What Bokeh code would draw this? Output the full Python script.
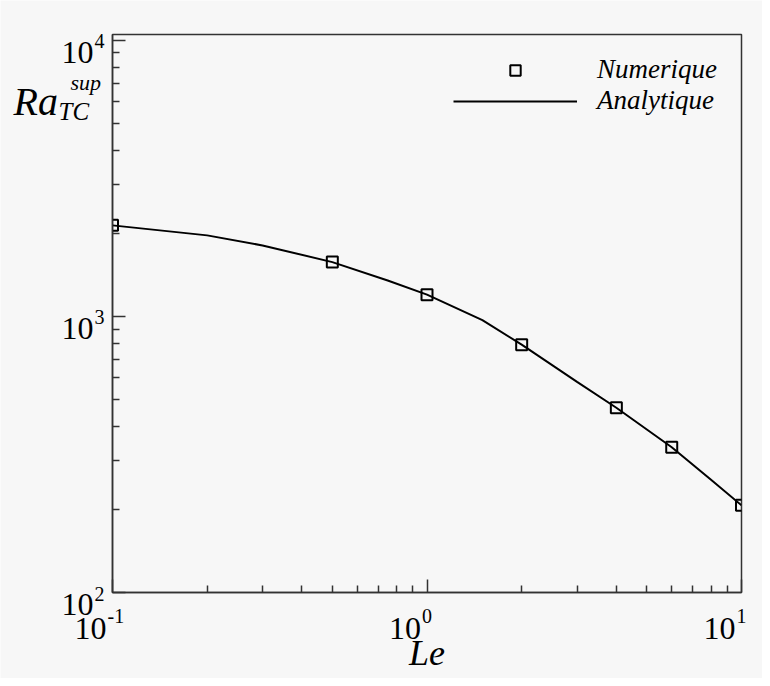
import math
from bokeh.plotting import figure
from bokeh.models import Range1d, FixedTicker, Label, Legend, LegendItem, CustomJSTickFormatter
from bokeh.layouts import column
from bokeh.embed import file_html
from bokeh.resources import INLINE

# ---- data ----
le_num = [0.1, 0.5, 1.0, 2.0, 4.0, 6.0, 10.0]
ra_num = [2137, 1573, 1199, 790, 467, 336, 207]

le_ana = [0.1, 0.2, 0.3, 0.5, 0.75, 1.0, 1.5, 2.0, 3.0, 4.0, 6.0, 8.0, 10.0]
ra_ana = [2137, 1966, 1808, 1573, 1350, 1199, 970, 790, 579, 467, 336, 256, 207]

x_ticks = [0.1, 1.0, 10.0]
x_exps = ["-1", "0", "1"]
y_ticks = [100, 1000, 10000]
y_exps = ["2", "3", "4"]

BG = "#f7f7f7"
FRAME = "#333333"
SERIF = "Liberation Serif"

# ---- layout constants (pixels) ----
W, H = 762, 678
FL, FT, FW, FH = 112, 34, 629, 558
X0, X1 = 0.1, 10.0
Y0, Y1 = 100.0, 10500.0

# ================= chart (transparent, on top) =================
p = figure(x_axis_type="log", y_axis_type="log",
           x_range=Range1d(X0, X1), y_range=Range1d(Y0, Y1),
           frame_width=FW, frame_height=FH,
           min_border_left=FL, min_border_right=W - FL - FW,
           min_border_top=FT, min_border_bottom=H - FT - FH,
           output_backend="svg", toolbar_location=None)
p.background_fill_alpha = 0
p.border_fill_alpha = 0
p.outline_line_color = FRAME
p.outline_line_width = 1.5
p.xgrid.visible = False
p.ygrid.visible = False

minor_x = [k * 10.0 ** d for d in (-1, 0) for k in range(2, 10)]
minor_y = [k * 10.0 ** d for d in (2, 3) for k in range(2, 10)]
p.xaxis.ticker = FixedTicker(ticks=x_ticks, minor_ticks=minor_x)
p.yaxis.ticker = FixedTicker(ticks=y_ticks, minor_ticks=minor_y)

for ax in (p.xaxis[0], p.yaxis[0]):
    ax.axis_line_color = FRAME
    ax.axis_line_width = 1.5
    ax.major_tick_line_color = FRAME
    ax.minor_tick_line_color = FRAME
    ax.major_tick_line_width = 1.5
    ax.minor_tick_line_width = 1.5
    ax.major_tick_in = 13
    ax.major_tick_out = 0
    ax.minor_tick_in = 7
    ax.minor_tick_out = 0
    ax.formatter = CustomJSTickFormatter(code="return ' ';")
    ax.major_label_text_font_size = "8px"
    ax.major_label_standoff = 0

line_r = p.line(le_ana, ra_ana, line_color="black", line_width=2)
sq_r = p.scatter(le_num, ra_num, marker="square", size=11,
                 line_color="black", line_width=2, fill_alpha=0)

legend = Legend(items=[LegendItem(label="Numerique", renderers=[sq_r]),
                       LegendItem(label="Analytique", renderers=[line_r])],
                location=(341, 476), orientation="vertical",
                glyph_width=124, glyph_height=26, label_height=26,
                label_standoff=20, spacing=0, padding=0, margin=0,
                border_line_alpha=0, background_fill_alpha=0,
                label_text_font=SERIF, label_text_font_style="italic",
                label_text_font_size="27px", label_text_color="black")
p.add_layout(legend, "center")

# ================= text layer (behind, same coordinate mapping) =================
ppx = FW / (math.log10(X1) - math.log10(X0))          # pixels per decade (x)
ppy = FH / (math.log10(Y1) - math.log10(Y0))          # pixels per decade (y)
ax0 = 10 ** (math.log10(X0) - FL / ppx)
ax1 = 10 ** (math.log10(X1) + (W - FL - FW) / ppx)
ay0 = 10 ** (math.log10(Y0) - (H - FT - FH) / ppy)
ay1 = 10 ** (math.log10(Y1) + FT / ppy)

t = figure(x_axis_type="log", y_axis_type="log",
           x_axis_location=None, y_axis_location=None,
           x_range=Range1d(ax0, ax1), y_range=Range1d(ay0, ay1),
           frame_width=W, frame_height=H, min_border=0,
           output_backend="svg", toolbar_location=None)
t.xgrid.visible = False
t.ygrid.visible = False
t.outline_line_color = None
t.background_fill_color = BG
t.border_fill_color = BG

# keep the two canvases independent (no frame alignment inside the column)
for fig in (t, p):
    if "frame_align" in fig.properties():
        fig.frame_align = False


def lab(x, y, text, dx, dy, size, align="left", italic=False):
    t.add_layout(Label(x=x, y=y, text=text, x_offset=dx, y_offset=dy,
                       text_align=align, text_baseline="alphabetic",
                       text_font=SERIF, text_font_size=size,
                       text_font_style="italic" if italic else "normal",
                       text_color="black"))


for v, e in zip(y_ticks, y_exps):
    lab(X0, v, "10", -19, -12, "32px", "right")
    lab(X0, v, e, -18, -1, "20px")

for v, e in zip(x_ticks, x_exps):
    lab(v, Y0, "10", -6, -36, "32px", "right")
    lab(v, Y0, e, -5, -23, "20px")

lab(X0, 10000, "Ra", -99, -61, "40px", italic=True)
lab(X0, 10000, "sup", -42, -42, "22px", italic=True)
lab(X0, 10000, "TC", -54, -71, "25px", italic=True)
lab(1.0, Y0, "Le", 0, -60, "36px", "center", italic=True)

p.margin = (-H, 0, 0, 0)
layout = column(t, p, spacing=0)

open("out.html", "w").write(file_html(layout, INLINE))
